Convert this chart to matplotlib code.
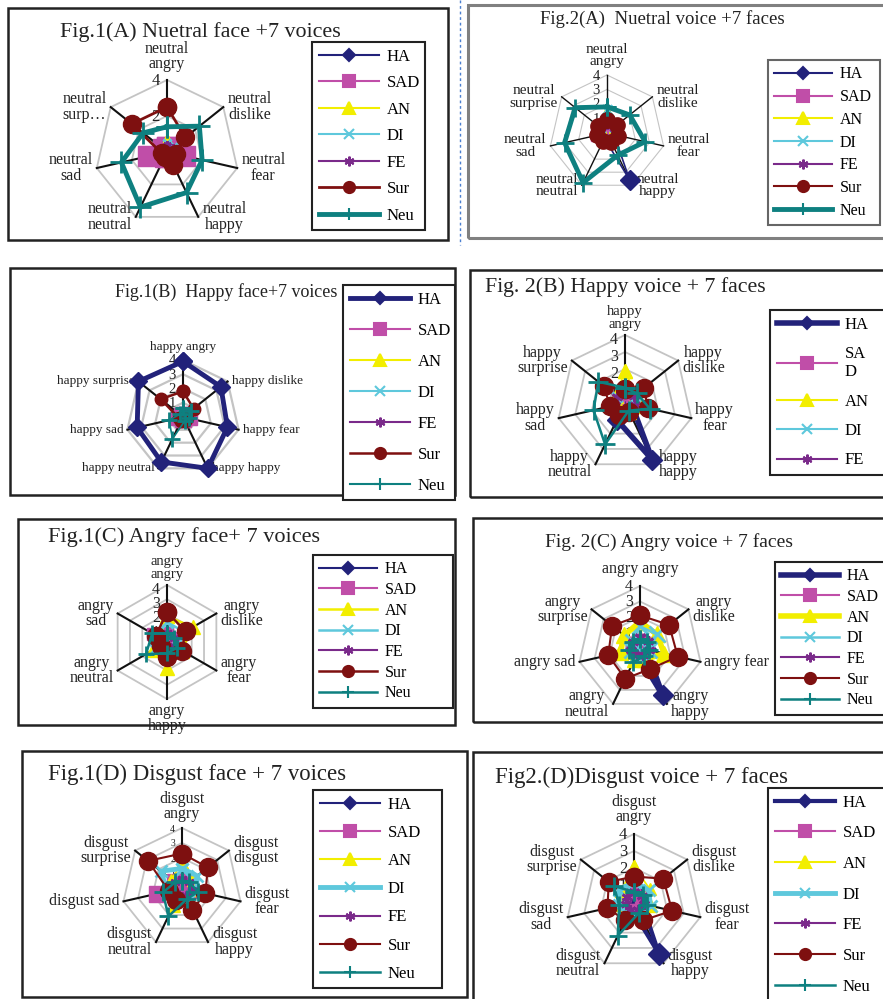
import numpy as np
import matplotlib
matplotlib.use('Agg')
import matplotlib.pyplot as plt
from matplotlib.lines import Line2D
from matplotlib.patches import Rectangle

plt.rcParams['font.family'] = ['Liberation Serif', 'DejaVu Serif']

W, H = 883, 999

series = ['HA', 'SAD', 'AN', 'DI', 'FE', 'Sur', 'Neu']
colors = ['#22227a', '#c04ea8', '#f2ee00', '#5ec8dc', '#7a2a8a', '#7e1010', '#0e8080']
markers = ['D', 's', '^', 'x', (6, 2, 0), 'o', '+']

# values: rows = HA, SAD, AN, DI, FE, Sur, Neu ; columns = categories (clockwise from top)
cats_1a = ['neutral\nangry', 'neutral\ndislike', 'neutral\nfear', 'neutral\nhappy',
           'neutral\nneutral', 'neutral\nsad', 'neutral\nsurp…']
vals_1a = [[0.3, 0.3, 0.4, 1.0, 0.3, 0.3, 0.3],
           [0.3, 0.4, 1.0, 0.3, 0.3, 1.1, 0.3],
           [0.8, 0.4, 0.3, 0.3, 0.3, 0.3, 0.3],
           [0.5, 0.5, 0.4, 0.3, 0.3, 0.3, 0.3],
           [0.4, 0.4, 0.5, 0.4, 0.3, 0.3, 0.3],
           [2.5, 1.3, 0.5, 0.8, 0.3, 0.3, 2.5],
           [1.4, 2.3, 2.0, 2.5, 3.4, 2.6, 1.7]]

cats_2a = ['neutral\nangry', 'neutral\ndislike', 'neutral\nfear', 'neutral\nhappy',
           'neutral\nneutral', 'neutral\nsad', 'neutral\nsurprise']
vals_2a = [[0.4, 0.4, 0.5, 3.6, 0.4, 0.4, 0.4],
           [0.5, 0.4, 0.5, 0.5, 0.4, 0.7, 0.4],
           [1.5, 0.6, 0.6, 0.5, 0.5, 0.5, 0.5],
           [1.6, 0.7, 0.6, 0.5, 0.5, 0.5, 0.6],
           [0.6, 0.6, 0.6, 0.5, 0.5, 0.5, 0.5],
           [0.9, 0.9, 0.8, 0.7, 0.6, 0.7, 0.8],
           [1.8, 2.0, 2.7, 1.7, 3.8, 3.0, 2.8]]

cats_1b = ['happy angry', 'happy dislike', 'happy fear', 'happy happy',
           'happy neutral', 'happy sad', 'happy surprise']
vals_1b = [[3.9, 3.4, 3.2, 4.0, 3.5, 3.3, 4.0],
           [0.3, 0.5, 0.6, 0.3, 0.3, 0.5, 0.3],
           [0.2, 0.2, 0.2, 0.2, 0.2, 0.2, 0.2],
           [0.2, 0.3, 0.3, 0.2, 0.2, 0.2, 0.2],
           [0.3, 0.3, 0.3, 0.3, 0.2, 0.2, 0.2],
           [1.8, 0.95, 0.3, 0.3, 0.3, 0.3, 2.0],
           [0.6, 0.7, 0.4, 0.3, 1.7, 1.0, 0.3]]

cats_2b = ['happy\nangry', 'happy\ndislike', 'happy\nfear', 'happy\nhappy',
           'happy\nneutral', 'happy\nsad', 'happy\nsurprise']
vals_2b = [[0.3, 0.3, 0.4, 3.7, 1.1, 0.3, 0.3],
           [0.5, 0.5, 0.6, 0.5, 0.5, 0.5, 0.5],
           [1.9, 0.8, 0.7, 0.6, 0.5, 0.5, 0.7],
           [0.7, 0.8, 0.6, 0.5, 0.5, 0.5, 0.6],
           [0.7, 0.7, 0.6, 0.5, 0.5, 0.6, 0.6],
           [0.8, 1.4, 1.4, 0.6, 0.8, 0.9, 1.6],
           [0.9, 0.9, 1.5, 0.5, 2.7, 1.9, 2.0]]

cats_1c = ['angry\nangry', 'angry\ndislike', 'angry\nfear', 'angry\nhappy',
           'angry\nneutral', 'angry\nsad']
vals_1c = [[0.4, 0.4, 0.5, 0.5, 0.4, 0.4],
           [0.6, 0.5, 0.5, 0.5, 0.8, 1.1],
           [1.8, 2.1, 1.2, 1.8, 1.1, 0.6],
           [1.4, 1.4, 0.9, 0.8, 1.0, 0.8],
           [0.6, 0.6, 0.6, 0.5, 0.6, 0.6],
           [2.1, 1.5, 1.2, 1.05, 0.5, 0.9],
           [0.6, 0.6, 0.8, 0.8, 1.7, 1.2]]

cats_2c = ['angry angry', 'angry\ndislike', 'angry fear', 'angry\nhappy',
           'angry\nneutral', 'angry sad', 'angry\nsurprise']
vals_2c = [[0.3, 0.3, 0.4, 3.4, 0.4, 0.3, 0.3],
           [0.5, 0.5, 0.5, 0.5, 0.5, 0.5, 0.5],
           [1.7, 1.4, 1.6, 0.8, 0.8, 1.3, 1.3],
           [1.4, 1.4, 0.6, 0.5, 0.5, 0.5, 0.6],
           [0.7, 0.7, 0.6, 0.5, 0.5, 0.6, 0.6],
           [2.1, 2.4, 2.5, 1.5, 2.2, 2.1, 2.3],
           [0.6, 0.6, 0.6, 0.6, 1.0, 0.7, 0.6]]

cats_1d = ['disgust\nangry', 'disgust\ndisgust', 'disgust\nfear', 'disgust\nhappy',
           'disgust\nneutral', 'disgust sad', 'disgust\nsurprise']
vals_1d = [[0.4, 0.4, 0.5, 0.5, 0.5, 0.4, 0.4],
           [0.5, 0.5, 0.5, 0.5, 0.5, 1.7, 0.6],
           [1.7, 0.9, 0.7, 0.7, 1.3, 0.8, 0.9],
           [1.3, 1.3, 1.0, 0.9, 0.8, 1.0, 1.8],
           [0.6, 0.6, 0.7, 0.6, 0.5, 0.6, 0.6],
           [2.3, 2.2, 1.6, 1.6, 0.9, 0.9, 2.9],
           [0.5, 0.6, 1.1, 0.8, 2.1, 1.3, 0.6]]

cats_2d = ['disgust\nangry', 'disgust\ndislike', 'disgust\nfear', 'disgust\nhappy',
           'disgust\nneutral', 'disgust\nsad', 'disgust\nsurprise']
vals_2d = [[0.4, 0.4, 0.5, 3.4, 0.4, 0.4, 0.4],
           [0.6, 0.5, 0.5, 0.5, 0.5, 0.6, 0.7],
           [2.1, 1.2, 1.0, 0.9, 0.9, 0.8, 1.0],
           [1.2, 1.1, 1.0, 0.9, 0.8, 0.9, 1.1],
           [0.6, 0.6, 0.6, 0.5, 0.5, 0.5, 0.5],
           [1.5, 2.2, 2.3, 1.2, 1.2, 1.6, 1.9],
           [0.6, 0.7, 0.8, 0.7, 2.2, 0.9, 1.5]]

fig = plt.figure(figsize=(W / 100, H / 100), dpi=100)


def fpos(x, y):
    return x / W, 1 - y / H


def box(x0, y0, x1, y1, color='#222222', lw=1.8):
    fig.add_artist(Rectangle(fpos(x0, y1), (x1 - x0) / W, (y1 - y0) / H,
                             transform=fig.transFigure, fill=False, ec=color, lw=lw, zorder=1))


def radar(cx, cy, rad, cats, vals, lws, mss, ticks=(0, 1, 2, 3, 4), grid=(1, 2, 3, 4),
          lab_fs=11, tick_fs=11, grid_lw=1.3, spoke_lw=1.5, top_pad=8, top_fs=None,
          top_ls=0.88, tick_dy=1):
    ax = fig.add_axes([(cx - rad) / W, 1 - (cy + rad) / H, 2 * rad / W, 2 * rad / H])
    ax.set_xlim(-4, 4)
    ax.set_ylim(-4, 4)
    ax.axis('off')
    u = 4.0 / rad  # data units per pixel
    n = len(cats)
    th = np.arange(n) * 2 * np.pi / n
    s, c = np.sin(th), np.cos(th)
    for g in grid:
        ax.plot(np.append(g * s, g * s[0]), np.append(g * c, g * c[0]),
                color='#c4c4c4', lw=grid_lw, clip_on=False, zorder=1)
    for i in range(n):
        ax.plot([0, 4 * s[i]], [0, 4 * c[i]], color='#111111', lw=spoke_lw,
                clip_on=False, zorder=2)
    for t in ticks:
        ax.text(-7 * u, t - tick_dy * u, str(t), ha='right', va='center', fontsize=tick_fs,
                color='#222222', zorder=3)
    for k, v in enumerate(vals):
        v = np.asarray(v, dtype=float)
        xs, ys = v * s, v * c
        ax.plot(np.append(xs, xs[0]), np.append(ys, ys[0]), color=colors[k],
                marker=markers[k], lw=lws[k], ms=mss[k], mec=colors[k],
                mew=2 if k in (3, 4, 6) else 1, clip_on=False, zorder=4 + k)
    pad = 4 * u
    for i, lab in enumerate(cats):
        if abs(s[i]) < 0.05:
            if c[i] > 0:
                ax.text(0, 4 + top_pad * u, lab, ha='center', va='bottom',
                        fontsize=top_fs or lab_fs, linespacing=top_ls, color='#222222')
            else:
                ax.text(0, -4 - pad, lab, ha='center', va='top', fontsize=lab_fs,
                        linespacing=0.9, color='#222222')
        else:
            sg = 1 if s[i] > 0 else -1
            ax.text(4 * s[i] + sg * pad, 4 * c[i], lab, ha='left' if sg > 0 else 'right',
                    va='center', fontsize=lab_fs, linespacing=0.95,
                    multialignment='center', color='#222222')
    return ax


def legend(x, y, w, lws, fs, ls, labels=None, n=7, ec='#222222'):
    lms = [6, 8, 8, 7, 7, 8, 8]
    handles = [Line2D([], [], color=colors[k], marker=markers[k], lw=max(lws[k], 1.5),
                      ms=lms[k], mec=colors[k], mew=1.5) for k in range(n)]
    if labels is None:
        labels = series[:n]
    x0, y0 = fpos(x, y)
    leg = fig.legend(handles, labels, loc='upper left', bbox_to_anchor=(x0, y0, w / W, 0),
                     bbox_transform=fig.transFigure, mode='expand', borderaxespad=0,
                     frameon=True, fancybox=False, edgecolor=ec, framealpha=1,
                     fontsize=fs, labelspacing=ls, handlelength=3.6, handletextpad=0.5,
                     borderpad=0.4)
    leg.get_frame().set_linewidth(1.5)
    leg.set_zorder(10)
    return leg


def title(x, y, txt, fs):
    fig.text(x / W, 1 - y / H, txt, ha='left', va='center', fontsize=fs, color='#222222',
             zorder=3)


thin = 1.2

# ---- Fig.1(A)
box(8, 8, 448, 240)
title(60, 32, 'Fig.1(A) Nuetral face +7 voices', 15.8)
lw = [thin, thin, thin, thin, thin, 2.0, 3.5]
radar(167, 152, 72, cats_1a, vals_1a, lw, [5, 14, 6, 6, 6, 13, 16],
      ticks=(0, 2, 4), grid=(2, 4), lab_fs=11.5, tick_fs=12, top_pad=8)
legend(312, 42, 113, lw, 12, 0.63)

# ---- Fig.2(A)
fig.add_artist(Line2D([460 / W, 460 / W], [1, 1 - 245 / H], transform=fig.transFigure,
                      color='#4a7fd0', ls=(0, (2, 2)), lw=1))
box(468, 5, 895, 238, color='#808080', lw=2.2)
title(540, 19, 'Fig.2(A)  Nuetral voice +7 faces', 13.5)
lw = [thin, thin, thin, thin, thin, 1.5, 3.5]
radar(607, 133, 58, cats_2a, vals_2a, lw, [10, 8, 7, 7, 7, 11, 13],
      lab_fs=11, tick_fs=10.5, grid_lw=0.8, spoke_lw=1.0, top_pad=7)
legend(768, 60, 112, lw, 11.5, 0.42, ec='#666666')

# ---- Fig.1(B)
box(10, 268, 455, 495)
title(115, 292, 'Fig.1(B)  Happy face+7 voices', 13)
lw = [3.5, thin, thin, thin, thin, 1.8, thin]
radar(183, 417, 57, cats_1b, vals_1b, lw, [9, 9, 6, 6, 6, 9, 11],
      lab_fs=9.5, tick_fs=10.5, grid_lw=1.6, top_pad=7)
legend(343, 285, 112, lw, 12, 0.9)

# ---- Fig.2(B)
box(470, 270, 895, 497)
title(485, 287, 'Fig. 2(B) Happy voice + 7 faces', 15.7)
lw = [4, thin, thin, thin, thin, 1.5, 1.8]
radar(625, 403, 68, cats_2b, vals_2b, lw, [10, 8, 10, 7, 8, 13, 14],
      lab_fs=11.5, tick_fs=11.5, top_pad=4, top_fs=10.5, top_ls=1.0, tick_dy=5)
legend(770, 310, 130, lw, 12, 0.8, labels=['HA', 'SA\nD', 'AN', 'DI', 'FE'], n=5)

# ---- Fig.1(C)
box(18, 519, 455, 725)
title(48, 537, 'Fig.1(C) Angry face+ 7 voices', 16)
lw = [thin, thin, 1.8, 1.8, thin, 1.8, 1.8]
radar(167, 642, 57, cats_1c, vals_1c, lw, [6, 8, 10, 8, 7, 13, 12],
      lab_fs=11.5, tick_fs=11.5, top_pad=4, top_fs=10.5, top_ls=1.0, tick_dy=5)
legend(313, 555, 140, lw, 11.5, 0.29)

# ---- Fig.2(C)
box(473, 518, 895, 722)
title(545, 542, 'Fig. 2(C) Angry voice + 7 faces', 14)
lw = [4, thin, 4, 1.8, thin, 1.5, 1.8]
radar(640, 648, 62, cats_2c, vals_2c, lw, [10, 8, 12, 12, 8, 13, 13],
      lab_fs=11.5, tick_fs=11.5, top_pad=9)
legend(775, 562, 130, lw, 11.5, 0.29)

# ---- Fig.1(D)
box(22, 751, 467, 997)
title(48, 774, 'Fig.1(D) Disgust face + 7 voices', 16.4)
lw = [thin, thin, thin, 3.5, thin, 1.5, 1.8]
radar(182, 888, 60, cats_1d, vals_1d, lw, [6, 11, 8, 8, 7, 13, 13],
      lab_fs=11.5, tick_fs=7, top_pad=6)
legend(313, 790, 129, lw, 12, 0.73)

# ---- Fig.2(D)
box(473, 752, 895, 1005)
title(495, 777, 'Fig2.(D)Disgust voice + 7 faces', 16.5)
lw = [3, thin, thin, 3.5, thin, 1.5, 1.8]
radar(634, 902, 68, cats_2d, vals_2d, lw, [11, 8, 8, 8, 8, 13, 13],
      lab_fs=11.5, tick_fs=12, top_pad=9)
legend(768, 788, 130, lw, 12, 0.88)

fig.savefig('out.png', dpi=100, facecolor='white')
